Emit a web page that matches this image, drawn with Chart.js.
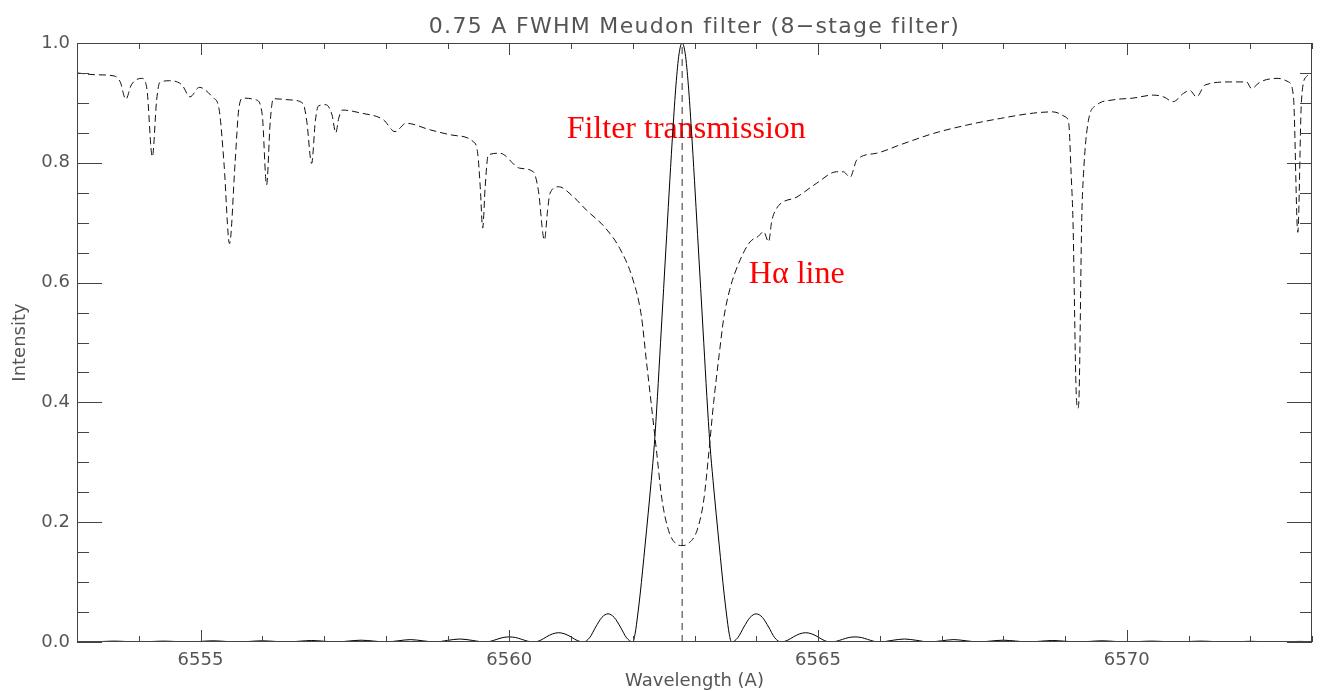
<!DOCTYPE html>
<html lang="en">
<head>
    <meta charset="UTF-8">
    <title>0.75 A FWHM Meudon filter</title>
    <script src="https://cdn.jsdelivr.net/npm/chart.js"></script>
    <style>
        body {
            margin: 0;
            padding: 0;
            background-color: #fff;
        }
        #wrap {
            width: 1320px;
            height: 691px;
            position: relative;
        }
    </style>
</head>
<body>
    <div id="wrap">
        <canvas id="filterChart"></canvas>
    </div>

    <script>
        // Axis ticks (labelled)
        const xTicks = [6555, 6560, 6565, 6570];
        const yTicks = [0.0, 0.2, 0.4, 0.6, 0.8, 1.0];

        // H-alpha solar spectrum (dashed)
        const haWave = [6553.00, 6553.30, 6553.60, 6553.70, 6553.79, 6553.88, 6554.05, 6554.13, 6554.22, 6554.29,
            6554.34, 6554.50, 6554.70, 6554.83, 6554.98, 6555.20, 6555.30, 6555.38, 6555.47, 6555.56,
            6555.62, 6555.69, 6555.90, 6556.00, 6556.07, 6556.13, 6556.18, 6556.45, 6556.66, 6556.72,
            6556.80, 6556.86, 6556.91, 6557.03, 6557.13, 6557.19, 6557.24, 6557.30, 6557.60, 6557.96,
            6558.15, 6558.33, 6558.72, 6559.09, 6559.42, 6559.49, 6559.53, 6559.57, 6559.61, 6559.66,
            6559.85, 6560.17, 6560.39, 6560.47, 6560.57, 6560.62, 6560.66, 6560.80, 6561.04, 6561.25,
            6561.55, 6561.79, 6562.00, 6562.14, 6562.22, 6562.30, 6562.39, 6562.47, 6562.58, 6562.68,
            6562.80, 6562.92, 6563.04, 6563.15, 6563.23, 6563.31, 6563.40, 6563.47, 6563.57, 6563.74,
            6563.90, 6564.03, 6564.12, 6564.20, 6564.25, 6564.33, 6564.66, 6564.98, 6565.30, 6565.41,
            6565.52, 6565.63, 6565.95, 6566.33, 6566.87, 6567.41, 6567.95, 6568.49, 6568.81, 6569.00,
            6569.06, 6569.10, 6569.13, 6569.18, 6569.21, 6569.23, 6569.27, 6569.30, 6569.38, 6569.51,
            6569.78, 6570.10, 6570.43, 6570.60, 6570.75, 6570.92, 6571.02, 6571.13, 6571.27, 6571.67,
            6571.94, 6572.02, 6572.16, 6572.45, 6572.62, 6572.70, 6572.77, 6572.83, 6572.91, 6573.00];
        const haIntensity = [0.950, 0.947, 0.945, 0.935, 0.906, 0.930, 0.941, 0.925, 0.810, 0.905,
            0.934, 0.937, 0.930, 0.910, 0.926, 0.909, 0.890, 0.800, 0.665, 0.800,
            0.890, 0.908, 0.905, 0.880, 0.763, 0.870, 0.907, 0.905, 0.899, 0.870,
            0.799, 0.870, 0.895, 0.897, 0.880, 0.850, 0.875, 0.888, 0.883, 0.872,
            0.852, 0.866, 0.855, 0.846, 0.835, 0.815, 0.760, 0.691, 0.760, 0.813,
            0.816, 0.791, 0.785, 0.755, 0.671, 0.720, 0.749, 0.760, 0.743, 0.721,
            0.692, 0.657, 0.606, 0.544, 0.470, 0.397, 0.314, 0.240, 0.186, 0.166,
            0.161, 0.166, 0.186, 0.237, 0.314, 0.400, 0.480, 0.538, 0.588, 0.638,
            0.668, 0.677, 0.685, 0.668, 0.702, 0.724, 0.743, 0.766, 0.785, 0.785,
            0.776, 0.805, 0.816, 0.830, 0.849, 0.863, 0.874, 0.883, 0.885, 0.877,
            0.866, 0.780, 0.700, 0.420, 0.390, 0.420, 0.700, 0.782, 0.871, 0.896,
            0.905, 0.908, 0.913, 0.910, 0.902, 0.916, 0.921, 0.910, 0.930, 0.935,
            0.935, 0.924, 0.935, 0.941, 0.935, 0.910, 0.684, 0.905, 0.944, 0.948];

        // Filter transmission (solid)
        const filterWave = [6553.0, 6553.2, 6553.4, 6553.6, 6553.8, 6554.0, 6554.2, 6554.4, 6554.6, 6554.8,
            6555.0, 6555.2, 6555.4, 6555.6, 6555.8, 6556.0, 6556.2, 6556.4, 6556.6, 6556.8,
            6557.0, 6557.2, 6557.4, 6557.6, 6557.8, 6558.0, 6558.2, 6558.4, 6558.6, 6558.8,
            6559.0, 6559.2, 6559.4, 6559.6, 6559.7, 6559.8, 6559.9, 6560.0, 6560.1, 6560.2,
            6560.3, 6560.4, 6560.5, 6560.6, 6560.7, 6560.8, 6560.9, 6561.0, 6561.1, 6561.2,
            6561.3, 6561.4, 6561.5, 6561.6, 6561.7, 6561.8, 6561.9, 6562.0, 6562.04, 6562.08,
            6562.12, 6562.16, 6562.2, 6562.25, 6562.3, 6562.35, 6562.4, 6562.45, 6562.5, 6562.55,
            6562.6, 6562.65, 6562.7, 6562.75, 6562.8, 6562.85, 6562.9, 6562.95, 6563.0, 6563.05,
            6563.1, 6563.15, 6563.2, 6563.25, 6563.3, 6563.35, 6563.4, 6563.44, 6563.48, 6563.52,
            6563.56, 6563.6, 6563.7, 6563.8, 6563.9, 6564.0, 6564.1, 6564.2, 6564.3, 6564.4,
            6564.5, 6564.6, 6564.7, 6564.8, 6564.9, 6565.0, 6565.1, 6565.2, 6565.3, 6565.4,
            6565.5, 6565.6, 6565.7, 6565.8, 6565.9, 6566.0, 6566.2, 6566.4, 6566.6, 6566.8,
            6567.0, 6567.2, 6567.4, 6567.6, 6567.8, 6568.0, 6568.2, 6568.4, 6568.6, 6568.8,
            6569.0, 6569.2, 6569.4, 6569.6, 6569.8, 6570.0, 6570.2, 6570.4, 6570.6, 6570.8,
            6571.0, 6571.2, 6571.4, 6571.6, 6571.8, 6572.0, 6572.2, 6572.4, 6572.6, 6572.8, 6573.0];
        const filterTrans = [0.0007, 0, 0.0008, 0.0015, 0.0008, 0, 0.0008, 0.0015, 0.0008, 0,
            0.001, 0.002, 0.001, 0, 0.001, 0.002, 0.001, 0, 0.0013, 0.0025,
            0.0013, 0, 0.0016, 0.003, 0.0016, 0, 0.002, 0.004, 0.002, 0,
            0.0027, 0.005, 0.0027, 0, 0.0013, 0.0045, 0.0075, 0.0085, 0.0075, 0.0045,
            0.0013, 0, 0.0025, 0.0085, 0.0135, 0.0155, 0.0135, 0.0085, 0.0025, 0,
            0.007, 0.025, 0.041, 0.047, 0.041, 0.025, 0.007, 0, 0.015, 0.045,
            0.08, 0.12, 0.162, 0.215, 0.27, 0.33, 0.41, 0.50, 0.59, 0.68,
            0.77, 0.855, 0.93, 0.982, 1.0, 0.982, 0.93, 0.855, 0.77, 0.68,
            0.59, 0.50, 0.41, 0.33, 0.27, 0.215, 0.162, 0.12, 0.08, 0.045,
            0.015, 0, 0.007, 0.025, 0.041, 0.047, 0.041, 0.025, 0.007, 0,
            0.0025, 0.0085, 0.0135, 0.0155, 0.0135, 0.0085, 0.0025, 0, 0.0013, 0.0045,
            0.0075, 0.0085, 0.0075, 0.0045, 0.0013, 0, 0.0027, 0.005, 0.0027, 0,
            0.002, 0.004, 0.002, 0, 0.0016, 0.003, 0.0016, 0, 0.0013, 0.0025,
            0.0013, 0, 0.001, 0.002, 0.001, 0, 0.0008, 0.0015, 0.0008, 0,
            0.0008, 0.0015, 0.0008, 0, 0.0006, 0.0012, 0.0006, 0, 0.0005, 0.001, 0.0005];

        // Line centre marker
        const lineCentre = 6562.8;

        const toPoints = (xs, ys) => xs.map((x, i) => ({ x: x, y: ys[i] }));

        const idlFont = '"DejaVu Sans", sans-serif';
        const textGrey = '#555';

        // frame, inward tick marks, title and axis titles (IDL look)
        const decor = {
            id: 'decor',
            beforeDatasetsDraw(chart) {
                const ctx = chart.ctx;
                const xs = chart.scales.x, ys = chart.scales.y;
                ctx.save();
                ctx.fillStyle = '#ff0000';
                ctx.font = '32px "Liberation Serif", "Times New Roman", serif';
                ctx.textAlign = 'left';
                ctx.textBaseline = 'alphabetic';
                ctx.fillText('Filter transmission', xs.getPixelForValue(6560.93), ys.getPixelForValue(0.841));
                ctx.fillText('H\u03b1 line', xs.getPixelForValue(6563.88), ys.getPixelForValue(0.600));
                ctx.restore();
            },
            afterDraw(chart) {
                const ctx = chart.ctx;
                const a = chart.chartArea;
                const xs = chart.scales.x, ys = chart.scales.y;
                ctx.save();
                ctx.strokeStyle = '#444';
                ctx.lineWidth = 1;
                ctx.strokeRect(a.left + 0.5, a.top + 0.5, a.right - a.left - 1, a.bottom - a.top - 1);

                ctx.beginPath();
                for (let v = 6553; v <= 6573; v += 1) {
                    const px = Math.round(xs.getPixelForValue(v)) + 0.5;
                    const len = (v % 5 === 0) ? 12 : 6;
                    ctx.moveTo(px, a.bottom); ctx.lineTo(px, a.bottom - len);
                    ctx.moveTo(px, a.top); ctx.lineTo(px, a.top + len);
                }
                for (let k = 0; k <= 20; k++) {
                    const py = Math.round(ys.getPixelForValue(k * 0.05)) + 0.5;
                    const len = (k % 4 === 0) ? 25 : 12;
                    ctx.moveTo(a.left, py); ctx.lineTo(a.left + len, py);
                    ctx.moveTo(a.right, py); ctx.lineTo(a.right - len, py);
                }
                ctx.stroke();

                ctx.fillStyle = textGrey;
                ctx.textAlign = 'center';
                ctx.textBaseline = 'alphabetic';
                const mid = (a.left + a.right) / 2;
                ctx.font = '22px ' + idlFont;
                ctx.letterSpacing = '1.3px';
                ctx.fillText('0.75 A FWHM Meudon filter (8\u2212stage filter)', mid, 33);
                ctx.letterSpacing = '0px';
                ctx.font = '18px ' + idlFont;
                ctx.fillText('Wavelength (A)', mid, 686);
                ctx.translate(25, (a.top + a.bottom) / 2);
                ctx.rotate(-Math.PI / 2);
                ctx.fillText('Intensity', 0, 0);
                ctx.restore();
            }
        };

        const ctx = document.getElementById('filterChart').getContext('2d');
        const filterChart = new Chart(ctx, {
            type: 'line',
            data: {
                datasets: [{
                    label: 'H-alpha line',
                    data: toPoints(haWave, haIntensity),
                    borderColor: '#111',
                    borderWidth: 1,
                    borderDash: [7, 4],
                    pointRadius: 0,
                    cubicInterpolationMode: 'monotone'
                }, {
                    label: 'Filter transmission',
                    data: toPoints(filterWave, filterTrans),
                    borderColor: '#000',
                    borderWidth: 1,
                    pointRadius: 0,
                    cubicInterpolationMode: 'monotone'
                }, {
                    label: 'Line centre',
                    data: [{ x: lineCentre, y: 0 }, { x: lineCentre, y: 1 }],
                    borderColor: '#333',
                    borderWidth: 1,
                    borderDash: [7, 5],
                    pointRadius: 0,
                    tension: 0
                }]
            },
            options: {
                responsive: true,
                maintainAspectRatio: false,
                animation: false,
                devicePixelRatio: 1,
                layout: { padding: { left: 0, right: 8, top: 43, bottom: 0 } },
                plugins: {
                    legend: { display: false },
                    title: { display: false },
                    tooltip: { enabled: false }
                },
                scales: {
                    x: {
                        type: 'linear',
                        min: 6553,
                        max: 6573,
                        grid: { display: false, drawTicks: false },
                        border: { display: false },
                        afterBuildTicks: s => { s.ticks = xTicks.map(v => ({ value: v })); },
                        afterFit: s => { s.height = 49; },
                        ticks: {
                            color: textGrey,
                            font: { family: idlFont, size: 18 },
                            padding: 8,
                            maxRotation: 0,
                            callback: v => String(v)
                        }
                    },
                    y: {
                        type: 'linear',
                        min: 0,
                        max: 1,
                        grid: { display: false, drawTicks: false },
                        border: { display: false },
                        afterBuildTicks: s => { s.ticks = yTicks.map(v => ({ value: v })); },
                        afterFit: s => { s.width = 77; },
                        ticks: {
                            color: textGrey,
                            font: { family: idlFont, size: 18 },
                            padding: 7,
                            callback: v => Number(v).toFixed(1)
                        }
                    }
                }
            },
            plugins: [decor]
        });
    </script>
</body>
</html>
